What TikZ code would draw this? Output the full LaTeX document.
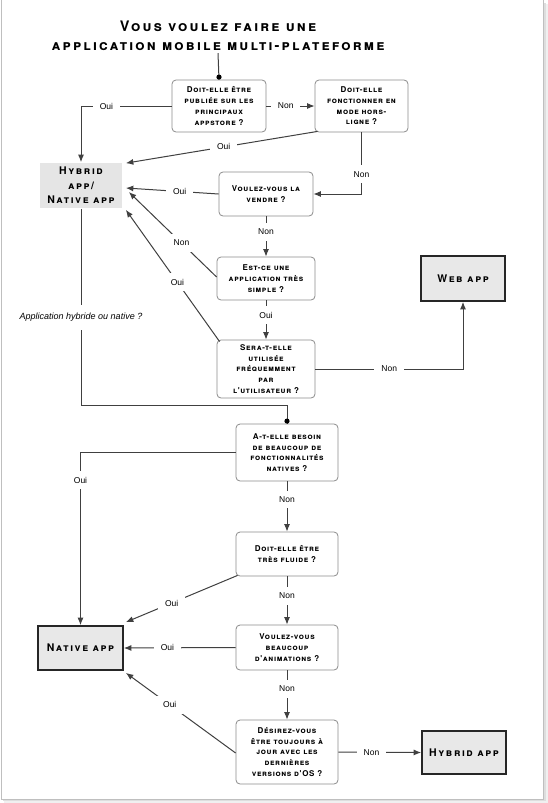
\documentclass[tikz,border=0pt]{standalone}
\usepackage{fontspec}
\setmainfont{Liberation Sans}
\newfontfamily\boxfont[Letters=SmallCaps,LetterSpace=8]{TeX Gyre Heros}
\newfontfamily\finfont[Letters=SmallCaps,LetterSpace=15]{TeX Gyre Heros}
\newfontfamily\titlefont[Letters=SmallCaps,LetterSpace=15]{TeX Gyre Heros}
\usetikzlibrary{arrows.meta,calc}
\tikzset{
  q/.style={draw=black!45, line width=0.8pt, rounded corners=4pt, fill=white,
    align=center, inner sep=0pt, font=\fontsize{8}{10.7}\selectfont\boxfont\bfseries},
  fin/.style={draw=black!85, line width=1.7pt, fill=black!9, align=center, inner sep=0pt,
    font=\fontsize{10.5}{14.5}\selectfont\finfont\bfseries},
  con/.style={draw=black!75, line width=1pt},
  arr/.style={con, -{Latex[length=7.5pt,width=6pt]}},
  lab/.style={fill=white, font=\fontsize{8.5}{9}\selectfont, inner xsep=7pt, inner ysep=6pt},
  ilab/.style={fill=white, font=\fontsize{9}{10}\selectfont\itshape, inner xsep=2pt, inner ysep=8pt}
}
\begin{document}
\begin{tikzpicture}[x=1pt,y=-1pt]
\useasboundingbox (0,0) rectangle (548,803);
\fill[white] (0,0) rectangle (548,803);
\fill[black!6] (4,4) rectangle (548,803);
\fill[black!13] (3,3) rectangle (546,801);
\filldraw[fill=white, draw=black!25, line width=0.6pt] (1,-2) rectangle (543,799);

\node[align=center, inner sep=2pt, font=\fontsize{14.5}{19}\selectfont\titlefont\bfseries] (title) at (218,36)
  {Vous voulez faire une\\application mobile multi-plateforme};

\node[q, minimum width=94pt, minimum height=52pt] (b1) at (219,106)
  {Doit-elle être\\publiée sur les\\principaux\\appstore ?};
\node[q, minimum width=93pt, minimum height=52pt] (b2) at (361.5,106)
  {Doit-elle\\fonctionner en\\mode hors-\\ligne ?};
\node[fin, draw=none, fill=black!10, minimum width=82pt, minimum height=45pt] (hyb) at (81,185.5)
  {Hybrid\\app/\\Native app};
\node[q, minimum width=94pt, minimum height=44pt] (b3) at (266,194)
  {Voulez-vous la\\vendre ?};
\node[q, minimum width=98pt, minimum height=43pt] (b4) at (266,278.5)
  {Est-ce une\\application très\\simple ?};
\node[q, minimum width=98pt, minimum height=58pt] (b5) at (266,369)
  {Sera-t-elle\\utilisée\\fréquemment\\par\\l'utilisateur ?};
\node[fin, minimum width=84pt, minimum height=45pt] (web) at (463,278.5) {Web app};
\node[q, minimum width=102pt, minimum height=57pt] (b6) at (287,452.5)
  {A-t-elle besoin\\de beaucoup de\\fonctionnalités\\natives ?};
\node[q, minimum width=102pt, minimum height=44pt] (b7) at (287,554)
  {Doit-elle être\\très fluide ?};
\node[fin, minimum width=85pt, minimum height=44pt] (nat) at (80.5,648) {Native app};
\node[q, minimum width=102pt, minimum height=45pt] (b8) at (287,647.5)
  {Voulez-vous\\beaucoup\\d'animations ?};
\node[q, minimum width=102pt, minimum height=64pt] (b9) at (287,752)
  {Désirez-vous\\être toujours à\\jour avec les\\dernières\\versions d'OS ?};
\node[fin, minimum width=84pt, minimum height=43pt] (hyb2) at (464,752.5) {Hybrid app};

\coordinate (c1) at (81,405);

% top
\draw[con] (title.south) -- (b1.north);
\fill[black] ($(b1.north)+(0,-2.5)$) circle (2.6pt);
\draw[arr] (b1.east) -- node[lab, pos=0.4]{Non} (b2.west);
\draw[arr] (b1.west) -| node[lab, pos=0.36]{Oui} (hyb.north);
\draw[arr] ($(b2.south west)+(3,-1)$) -- node[lab, pos=0.49]{Oui} ($(hyb.north east)+(3,1)$);
\draw[arr] (b2.south) |- node[lab, pos=0.34]{Non} (b3.east);
\draw[arr] (b3.west) -- node[lab, pos=0.42]{Oui} ($(hyb.east)+(3,2.5)$);
\draw[arr] (b3.south) -- node[lab, pos=0.38]{Non} (b4.north);
\draw[arr] ($(b4.west)+(0,-1.5)$) -- node[lab, pos=0.4]{Non} ($(hyb.east)+(6,6.5)$);
\draw[arr] (b4.south) -- node[lab, pos=0.38]{Oui} (b5.north);
\draw[arr] ($(b5.north west)+(3,2)$) -- node[lab, pos=0.45]{Oui} ($(hyb.south east)+(3,1)$);
\draw[arr] (b5.east) -| node[lab, pos=0.25]{Non} (web.south);

% middle
\draw[con] (hyb.south) -- node[ilab, pos=0.553]{Application hybride ou native ?} (c1) -| (b6.north);
\fill[black] ($(b6.north)+(0,-2.5)$) circle (2.6pt);
\draw[arr] (b6.west) -| node[lab, pos=0.58]{Oui} (nat.north);
\draw[arr] (b6.south) -- node[lab, pos=0.36]{Non} (b7.north);
\draw[arr] ($(b7.south west)+(2,-1)$) -- node[lab, pos=0.59]{Oui} ($(nat.north east)+(2,-3)$);
\draw[arr] (b7.south) -- node[lab, pos=0.4]{Non} (b8.north);
\draw[arr] (b8.west) -- node[lab, pos=0.61]{Oui} (nat.east);
\draw[arr] (b8.south) -- node[lab, pos=0.38]{Non} (b9.north);
\draw[arr] ($(b9.west)+(0,1)$) -- node[lab, pos=0.6]{Oui} ($(nat.south east)+(2,2)$);
\draw[arr] (b9.east) -- node[lab, pos=0.4]{Non} (hyb2.west);
\end{tikzpicture}
\end{document}
